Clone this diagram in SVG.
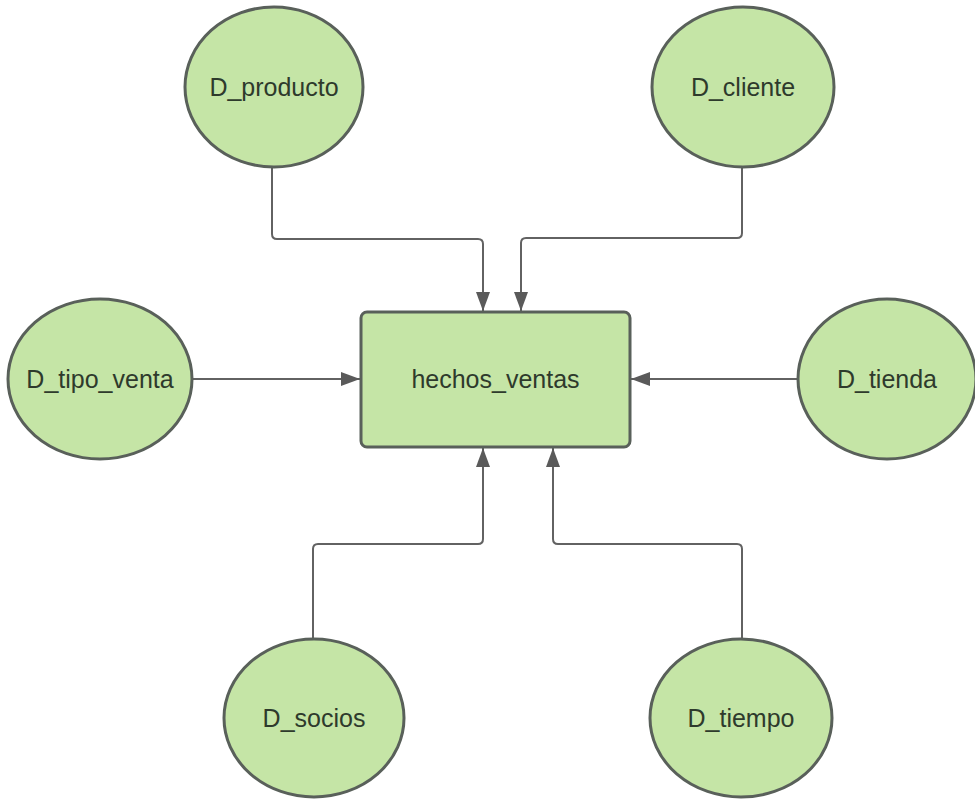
<svg xmlns="http://www.w3.org/2000/svg" width="975" height="799" viewBox="0 0 975 799">
<defs>
<style>
.node{fill:#c5e5a6;stroke:#59605a;stroke-width:3}
.lbl{font-family:"Liberation Sans",Arial,sans-serif;font-size:25px;fill:#2e3a2c;text-anchor:middle}
.conn{fill:none;stroke:#626262;stroke-width:2}
</style>
<marker id="arr" markerUnits="userSpaceOnUse" markerWidth="20" markerHeight="16" refX="19" refY="7" orient="auto">
<path d="M0,0 L19,7 L0,14 Z" fill="#5a5a5a"/>
</marker>
</defs>
<rect width="975" height="799" fill="#ffffff"/>
<g id="connectors">
<path class="conn" d="M272,167 V234 Q272,239 277,239 H478 Q483,239 483,244 V311" marker-end="url(#arr)"/>
<path class="conn" d="M742,167 V233 Q742,238 737,238 H526 Q521,238 521,243 V311" marker-end="url(#arr)"/>
<path class="conn" d="M193,379 H360" marker-end="url(#arr)"/>
<path class="conn" d="M798,379 H631" marker-end="url(#arr)"/>
<path class="conn" d="M313,639 V549 Q313,544 318,544 H478 Q483,544 483,539 V448" marker-end="url(#arr)"/>
<path class="conn" d="M742,639 V549 Q742,544 737,544 H558 Q553,544 553,539 V448" marker-end="url(#arr)"/>
</g>
<g id="hechos_ventas">
<rect class="node" x="361" y="312" width="269" height="135" rx="6"/>
<text class="lbl" x="495.5" y="388">hechos_ventas</text>
</g>
<g id="D_producto">
<ellipse class="node" cx="274" cy="87" rx="89" ry="80"/>
<text class="lbl" x="274" y="96">D_producto</text>
</g>
<g id="D_cliente">
<ellipse class="node" cx="743" cy="87" rx="91" ry="80"/>
<text class="lbl" x="743" y="96">D_cliente</text>
</g>
<g id="D_tipo_venta">
<ellipse class="node" cx="100" cy="379" rx="92" ry="80"/>
<text class="lbl" x="100" y="388">D_tipo_venta</text>
</g>
<g id="D_tienda">
<ellipse class="node" cx="887" cy="379" rx="89" ry="80"/>
<text class="lbl" x="887" y="388">D_tienda</text>
</g>
<g id="D_socios">
<ellipse class="node" cx="314" cy="718" rx="90" ry="79"/>
<text class="lbl" x="314" y="727">D_socios</text>
</g>
<g id="D_tiempo">
<ellipse class="node" cx="741" cy="718" rx="91" ry="79"/>
<text class="lbl" x="741" y="727">D_tiempo</text>
</g>
</svg>
